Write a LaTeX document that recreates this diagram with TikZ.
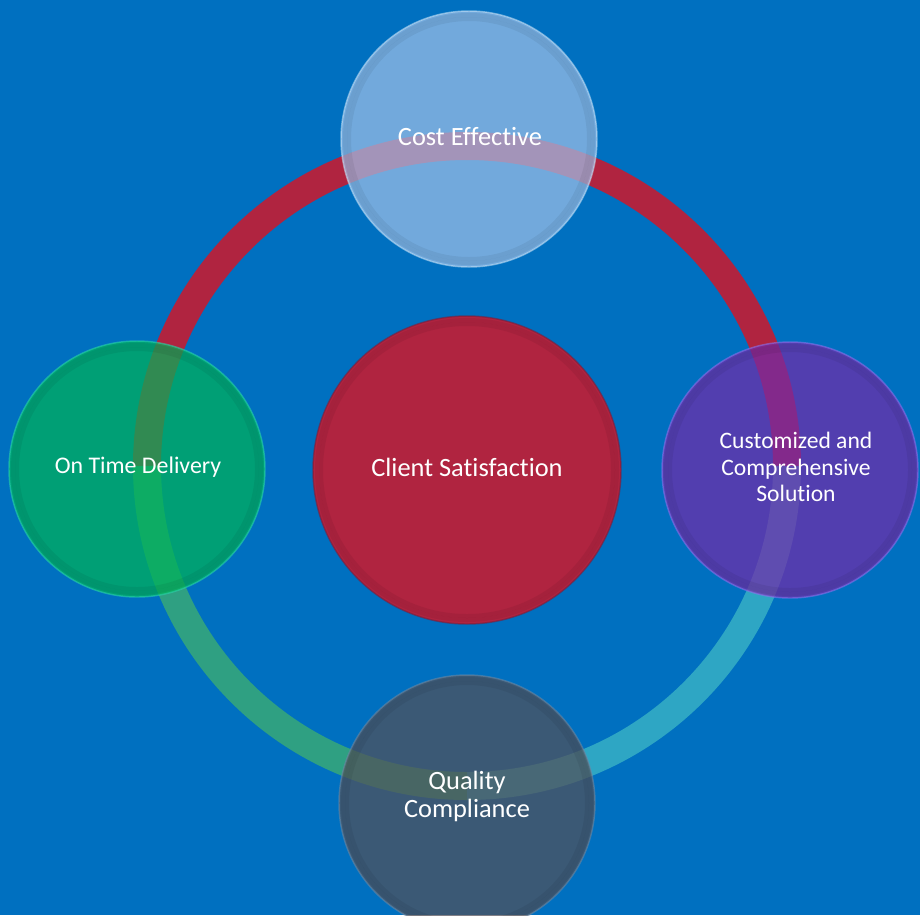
\documentclass[tikz,border=0pt]{standalone}
\usepackage{fontspec}
\setmainfont{Carlito}[Ligatures={NoCommon}]
\definecolor{bgblue}{HTML}{0070C0}
\definecolor{ringred}{HTML}{B02440}
\definecolor{ringgreen}{HTML}{2FA082}
\definecolor{ringcyan}{HTML}{2EA6C4}
\definecolor{topfill}{HTML}{9EC0E8}
\definecolor{leftfill}{HTML}{00B259}
\definecolor{rightfill}{HTML}{722BA9}
\definecolor{botfill}{HTML}{535159}
\definecolor{midfill}{HTML}{B02440}
\definecolor{toprim}{HTML}{C8E4F8}
\definecolor{leftrim}{HTML}{2CD6B0}
\definecolor{rightrim}{HTML}{8C78F0}
\definecolor{botrim}{HTML}{6C8CAA}
\definecolor{midrim}{HTML}{7A1E3C}
\begin{document}
\begin{tikzpicture}[x=0.75pt,y=-0.75pt,
  ringarc/.style={line width=21pt},
  bubble/.style={circle, inner sep=0pt, minimum size=192pt, fill opacity=0.72, draw opacity=0.55, line width=1.1pt},
  shade/.style={black, opacity=0.06, line width=3pt},
  lbl/.style={text=white, align=center, font=\fontsize{19.8}{21}\selectfont}
]
\useasboundingbox (0,0) rectangle (920,915);
\fill[bgblue] (0,0) rectangle (920,915);
% ring
\coordinate (rc) at (467,466);
\draw[ringarc, ringred]   ([shift={(180:320)}]rc) arc[start angle=180, end angle=270, radius=320];
\draw[ringarc, ringred]   ([shift={(270:320)}]rc) arc[start angle=270, end angle=360, radius=320];
\draw[ringarc, ringcyan]  ([shift={(0:320)}]rc)   arc[start angle=0,   end angle=90,  radius=320];
\draw[ringarc, ringgreen] ([shift={(90:320)}]rc)  arc[start angle=90,  end angle=180, radius=320];
% circles
\node[bubble, fill=topfill, draw=toprim] (costc) at (469,139) {};
\node[bubble, fill=leftfill, draw=leftrim] (timec) at (137,469) {};
\node[bubble, fill=rightfill, draw=rightrim] (custc) at (790,470) {};
\node[bubble, fill=botfill, draw=botrim] (qualc) at (467,803) {};
\node[circle, inner sep=0pt, minimum size=231pt, fill=midfill, draw=midrim, draw opacity=0.6, line width=1.1pt] (midc) at (467,470) {};
% inner shading
\foreach \n/\r in {costc/124, timec/124, custc/124, qualc/124, midc/150}{
  \draw[shade] (\n.center) circle[radius=\r];
  \draw[shade] (\n.center) circle[radius=\r-4];
}
% labels
\node[lbl] (costl) at (470,137) {Cost Effective};
\node[lbl] (midl) at (467,467) {Client Satisfaction};
\node[lbl, font=\fontsize{17.9}{20}\selectfont] (timel) at (138,467) {On Time Delivery};
\node[lbl, font=\fontsize{17.7}{19.9}\selectfont] (custl) at (796,467) {Customized and\\Comprehensive\\Solution};
\node[lbl] (quall) at (467,796) {Quality\\Compliance};
\end{tikzpicture}
\end{document}
